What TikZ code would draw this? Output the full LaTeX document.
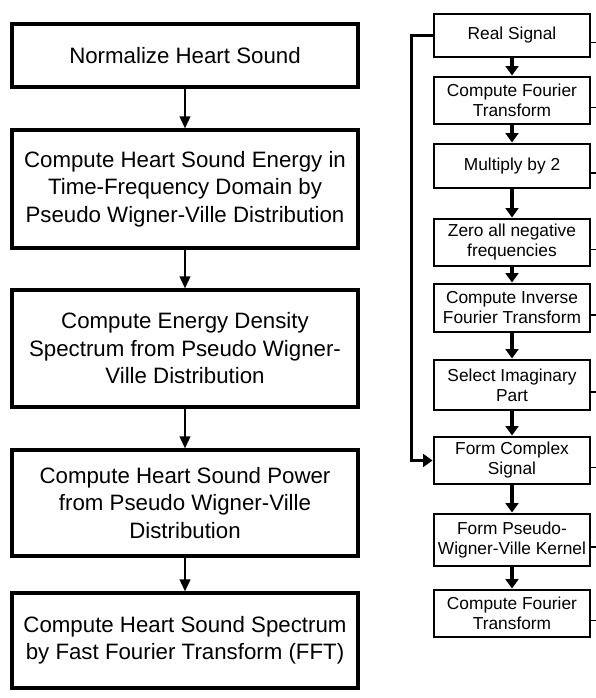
\documentclass[tikz,border=0pt]{standalone}
\usepackage{fontspec}
\setmainfont{Liberation Sans}
\usetikzlibrary{arrows.meta,calc}

\begin{document}
\begin{tikzpicture}[
    x=0.75pt, y=-0.75pt,
    bigbox/.style={rectangle, draw=black, line width=2.4pt, minimum width=259.5pt, align=center, inner sep=2pt,
        font=\fontsize{16.7pt}{20.6pt}\selectfont},
    smallbox/.style={rectangle, draw=black, line width=2.2pt, minimum width=117pt, align=center, inner sep=1pt,
        font=\fontsize{13pt}{15pt}\selectfont},
    arrow/.style={-{Triangle[length=9pt, width=8pt]}, line width=1.4pt},
    fatarrow/.style={-{Triangle[length=7pt, width=9.5pt]}, line width=2.4pt},
    stub/.style={line width=1.4pt}
]

\useasboundingbox (0,0) rectangle (595,698);

% Left column
\node[bigbox, minimum height=47.25pt] (norm) at (185, 55.5) {Normalize Heart Sound};
\node[bigbox, minimum height=88.5pt] (energy) at (185, 189) {Compute Heart Sound Energy in\\Time-Frequency Domain by\\Pseudo Wigner-Ville Distribution};
\node[bigbox, minimum height=87.75pt] (density) at (185, 348.5) {Compute Energy Density\\Spectrum from Pseudo Wigner-\\Ville Distribution};
\node[bigbox, minimum height=79.5pt] (power) at (185, 503) {Compute Heart Sound Power\\from Pseudo Wigner-Ville\\Distribution};
\node[bigbox, minimum height=71.25pt] (spectrum) at (185, 640.5) {Compute Heart Sound Spectrum\\by Fast Fourier Transform (FFT)};

% Right column
\node[smallbox, minimum height=32.25pt] (real) at (512, 35.5) {Real Signal};
\node[smallbox, minimum height=35.25pt] (fourier) at (512, 100.5) {Compute Fourier\\Transform};
\node[smallbox, minimum height=33pt] (twice) at (512, 166) {Multiply by 2};
\node[smallbox, minimum height=35.25pt] (zero) at (512, 242.5) {Zero all negative\\frequencies};
\node[smallbox, minimum height=36pt] (inverse) at (512, 308) {Compute Inverse\\Fourier Transform};
\node[smallbox, minimum height=37.5pt] (imag) at (512, 385) {Select Imaginary\\Part};
\node[smallbox, minimum height=35.25pt] (complex) at (512, 460.5) {Form Complex\\Signal};
\node[smallbox, minimum height=39pt] (kernel) at (512, 540) {Form Pseudo-\\Wigner-Ville Kernel};
\node[smallbox, minimum height=35.25pt] (fourier2) at (512, 613.5) {Compute Fourier\\Transform};

% Arrows
\draw[arrow] (norm) -- (energy);
\draw[arrow] (energy) -- (density);
\draw[arrow] (density) -- (power);
\draw[arrow] (power) -- (spectrum);

\draw[fatarrow] (real) -- (fourier);
\draw[fatarrow] (fourier) -- (twice);
\draw[fatarrow] (twice) -- (zero);
\draw[fatarrow] (zero) -- (inverse);
\draw[fatarrow] (inverse) -- (imag);
\draw[fatarrow] (imag) -- (complex);
\draw[fatarrow] (complex) -- (kernel);
\draw[fatarrow] (kernel) -- (fourier2);

% Real signal fed straight to the complex signal
\draw[fatarrow] (real.west) -- ++(-21,0) |- (complex.west);

% Cut-off stubs on the right edge
\foreach \n in {real,fourier,twice,zero,inverse,imag,complex,kernel,fourier2}
    \draw[stub] ($(\n.east)+(0,7)$) -- ++(6,0);

\end{tikzpicture}
\end{document}
